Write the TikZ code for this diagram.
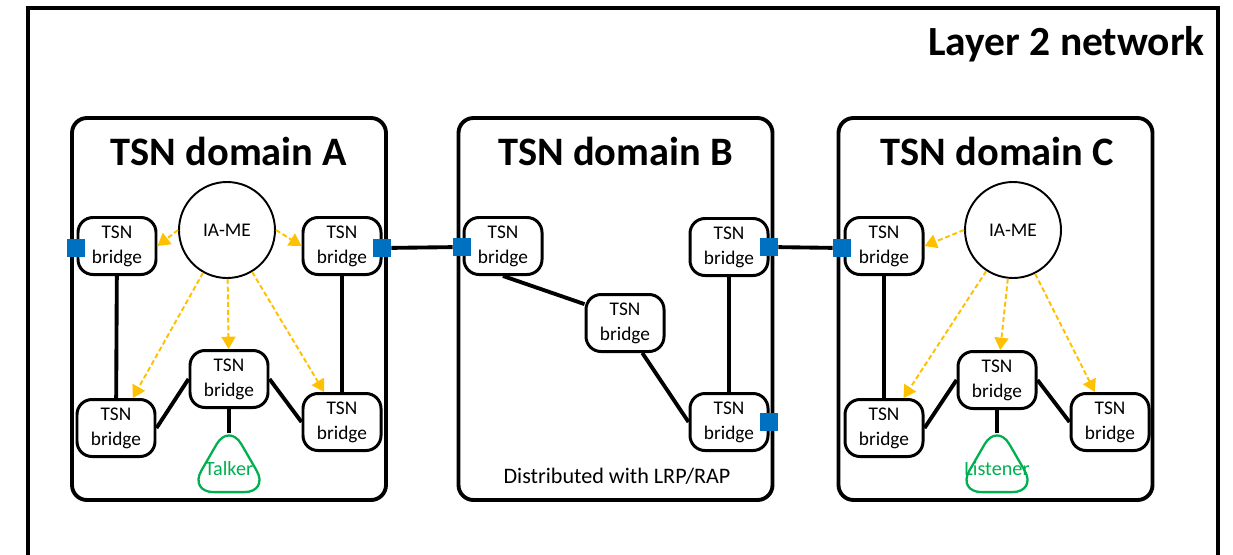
\documentclass[tikz,border=0pt]{standalone}
\usepackage{fontspec}
\setmainfont{Carlito}
\usetikzlibrary{shapes.geometric,arrows.meta}
\definecolor{portblue}{HTML}{0070C0}
\definecolor{mgmtorange}{HTML}{FFC000}
\definecolor{endgreen}{HTML}{00B050}
\begin{document}
\begin{tikzpicture}[
  tsndomain/.style={draw, line width=2.2pt, rounded corners=0.3cm, minimum width=6.28cm, minimum height=7.64cm},
  heading/.style={anchor=base, font=\fontsize{23}{27}\selectfont\bfseries},
  bridge/.style={draw, line width=1.7pt, rounded corners=0.3cm, fill=white, align=center, inner sep=0pt,
    minimum width=1.56cm, minimum height=1.14cm, font=\fontsize{11}{14.2}\selectfont},
  iame/.style={draw, circle, line width=1.1pt, minimum size=1.92cm, font=\fontsize{11}{14}\selectfont},
  endpoint/.style={draw=endgreen, line width=1.3pt, regular polygon, regular polygon sides=3, rounded corners=0.5cm,
    minimum size=1.85cm, inner sep=0pt, label={[text=endgreen, font=\fontsize{11.5}{14}\selectfont]center:#1}},
  port/.style={fill=portblue, inner sep=0pt, minimum size=0.36cm},
  link/.style={line width=2.2pt},
  ctrl/.style={draw=mgmtorange, line width=1.1pt, dash pattern=on 2.8pt off 1.6pt, -{Triangle[length=7pt,width=8pt,fill=mgmtorange]}}
]
\useasboundingbox (0,0) rectangle (24.66,-11.08);
\draw[line width=2pt] (0.56,-11.4) -- (0.56,-0.16) -- (24.36,-0.16) -- (24.36,-11.4);
\node[anchor=base east, font=\fontsize{23.6}{27}\selectfont\bfseries] (net) at (24.22,-1.10) {Layer 2 network};

\node[tsndomain] (domA) at (4.58,-6.18) {};
\node[tsndomain] (domB) at (12.31,-6.18) {};
\node[tsndomain] (domC) at (19.91,-6.18) {};
\node[heading] (tA) at (4.58,-3.30) {TSN domain A};
\node[heading] (tB) at (12.31,-3.30) {TSN domain B};
\node[heading] (tC) at (19.95,-3.30) {TSN domain C};

% domain A
\node[iame] (iaA) at (4.54,-4.60) {IA-ME};
\node[bridge] (bA1) at (2.34,-4.92) {TSN\\bridge};
\node[bridge] (bA3) at (6.84,-4.92) {TSN\\bridge};
\node[bridge] (bA2) at (4.58,-7.58) {TSN\\bridge};
\node[bridge] (bA4) at (2.32,-8.56) {TSN\\bridge};
\node[bridge] (bA5) at (6.84,-8.44) {TSN\\bridge};
\node[endpoint=Talker] (talk) at (4.58,-9.38) {};
\draw[link] (bA1) -- (bA4);
\draw[link] (bA3) -- (bA5);
\draw[link] (bA2.west) -- (bA4.east);
\draw[link] (bA2.east) -- (bA5.west);
\draw[link, shorten >=-7pt] (bA2.south) -- (talk.north);
\draw[ctrl] (iaA.west) -- (bA1.east);
\draw[ctrl] (iaA.east) -- (bA3.west);
\draw[ctrl] (iaA) -- (bA4);
\draw[ctrl] (iaA) -- (bA2);
\draw[ctrl] (iaA) -- (bA5);

% domain B
\node[bridge] (bB1) at (10.06,-4.92) {TSN\\bridge};
\node[bridge] (bB2) at (12.50,-6.46) {TSN\\bridge};
\node[bridge] (bB3) at (14.58,-4.94) {TSN\\bridge};
\node[bridge] (bB4) at (14.58,-8.44) {TSN\\bridge};
\node[anchor=base, font=\fontsize{12.6}{14}\selectfont] (rap) at (12.34,-9.66) {Distributed with LRP/RAP};
\draw[link] (bB1.south) -- (bB2.155);
\draw[link] (bB2.-60) -- (bB4.west);
\draw[link] (bB3) -- (bB4);

% domain C
\node[iame] (iaC) at (20.26,-4.60) {IA-ME};
\node[bridge] (bC1) at (17.68,-4.92) {TSN\\bridge};
\node[bridge] (bC2) at (19.94,-7.60) {TSN\\bridge};
\node[bridge] (bC4) at (17.68,-8.56) {TSN\\bridge};
\node[bridge] (bC5) at (22.20,-8.44) {TSN\\bridge};
\node[endpoint=Listener] (lis) at (19.94,-9.38) {};
\draw[link] (bC1) -- (bC4);
\draw[link] (bC2.west) -- (bC4.east);
\draw[link] (bC2.east) -- (bC5.west);
\draw[link, shorten >=-7pt] (bC2.south) -- (lis.north);
\draw[ctrl] (iaC.west) -- (bC1.east);
\draw[ctrl] (iaC) -- (bC4);
\draw[ctrl] (iaC) -- (bC2);
\draw[ctrl] (iaC) -- (bC5);

% ports and inter-domain links
\node[port] (pA1) at (1.52,-4.96) {};
\node[port] (pA2) at (7.64,-4.96) {};
\node[port] (pB1) at (9.24,-4.94) {};
\node[port] (pB2) at (15.38,-4.94) {};
\node[port] (pB3) at (15.38,-8.44) {};
\node[port] (pC1) at (16.84,-4.96) {};
\draw[link] (pA2) -- (pB1);
\draw[link] (pB2) -- (pC1);
\end{tikzpicture}
\end{document}
